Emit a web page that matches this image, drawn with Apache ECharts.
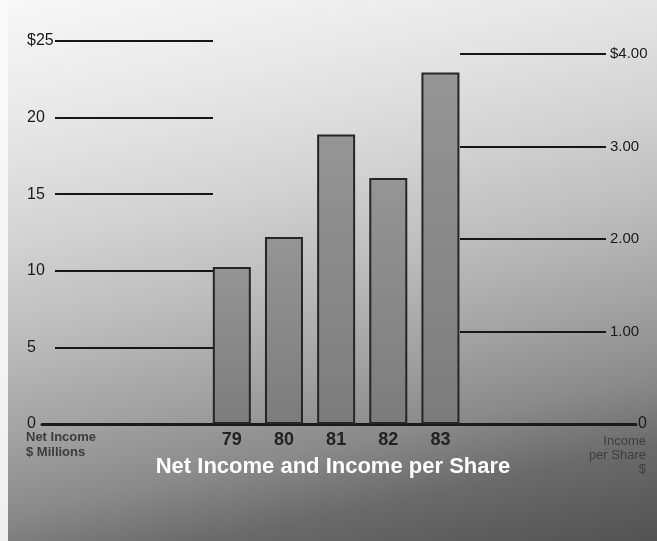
<!DOCTYPE html>
<html>
<head>
<meta charset="utf-8">
<script src="https://cdn.jsdelivr.net/npm/echarts@6/dist/echarts.min.js"></script>
<style>
  html, body { margin: 0; padding: 0; }
  #chart {
    width: 657px; height: 541px;
    background:
      linear-gradient(to right, rgba(250,250,250,0.9) 0, rgba(250,250,250,0.9) 8px, rgba(0,0,0,0) 8px),
      linear-gradient(168deg, #f8f8f8 0%, #e8e8e8 18%, #d4d4d4 35%, #bdbdbd 50%, #a3a3a3 64%, #8a8a8a 76%, #6a6a6a 86%, #525252 100%);
  }
</style>
</head>
<body>
<div id="chart"></div>
<script>
// ---- data ----
const years = ['79', '80', '81', '82', '83'];
const yearValues = [79, 80, 81, 82, 83];
const netIncome = [10.25, 12.2, 18.9, 16.05, 22.95];           // $ millions
const leftTickLabels = ['0', '5', '10', '15', '20', '$25'];
const rightTickLabels = ['0', '1.00', '2.00', '3.00', '$4.00'];
const title = 'Net Income and Income per Share';

const chart = echarts.init(document.getElementById('chart'), null, { renderer: 'canvas' });

const lineStyle = { color: '#161616', width: 2 };

const option = {
  animation: false,
  grid: [
    { left: 55, right: 657 - 213, top: 41, bottom: 117 },   // left reference lines
    { left: 42, right: 657 - 636, top: 41, bottom: 117 },   // bars + baseline
    { left: 460, right: 657 - 606, top: 54, bottom: 117 }   // right reference lines
  ],
  xAxis: [
    { gridIndex: 0, type: 'value', show: false, min: 0, max: 1 },
    {
      gridIndex: 1, type: 'value', min: 75.36, max: 86.75,
      axisLine: { show: true, lineStyle: { color: '#1a1a1a', width: 3 } },
      axisTick: { show: false },
      splitLine: { show: false },
      axisLabel: {
        customValues: yearValues,
        formatter: v => years[yearValues.indexOf(Math.round(v))] || '',
        margin: 7,
        fontFamily: 'Liberation Sans, Arial, sans-serif',
        fontWeight: 'bold', fontSize: 18, color: '#222'
      }
    },
    { gridIndex: 2, type: 'value', show: false, min: 0, max: 1 }
  ],
  yAxis: [
    {
      gridIndex: 0, type: 'value', position: 'left', min: 0, max: 25, interval: 5,
      axisLine: { show: false }, axisTick: { show: false },
      splitLine: { show: true, lineStyle: lineStyle },
      axisLabel: {
        formatter: (v) => leftTickLabels[Math.round(v / 5)],
        align: 'left', margin: 28,
        fontFamily: 'Liberation Sans, Arial, sans-serif',
        fontSize: 16, color: '#1a1a1a'
      }
    },
    {
      gridIndex: 1, type: 'value', position: 'left', min: 0, max: 25,
      show: false
    },
    {
      gridIndex: 1, type: 'value', position: 'right', min: 0, max: 4,
      axisLine: { show: false }, axisTick: { show: false }, splitLine: { show: false },
      axisLabel: {
        customValues: [0], formatter: () => rightTickLabels[0],
        margin: 2,
        fontFamily: 'Liberation Sans, Arial, sans-serif',
        fontSize: 16, color: '#1a1a1a'
      }
    },
    {
      gridIndex: 2, type: 'value', position: 'right', min: 0, max: 4, interval: 1,
      axisLine: { show: false }, axisTick: { show: false },
      splitLine: { show: true, lineStyle: lineStyle },
      axisLabel: {
        formatter: (v) => v === 0 ? '' : rightTickLabels[Math.round(v)],
        margin: 4,
        fontFamily: 'Liberation Sans, Arial, sans-serif',
        fontSize: 15, color: '#1a1a1a'
      }
    }
  ],
  series: [
    {
      type: 'bar',
      xAxisIndex: 1, yAxisIndex: 1,
      barWidth: 38,
      data: yearValues.map((y, i) => [y, netIncome[i]]),
      itemStyle: {
        color: new echarts.graphic.LinearGradient(0, 0, 0, 1, [
          { offset: 0, color: '#959595' },
          { offset: 1, color: '#7c7c7c' }
        ]),
        borderColor: '#262626',
        borderWidth: 2
      },
      z: 3
    }
  ],
  graphic: [
    {
      type: 'text', x: 26, y: 430,
      style: {
        text: 'Net Income\n$ Millions',
        font: 'bold 13px "Liberation Sans", Arial, sans-serif',
        fill: '#3c3c3c', lineHeight: 15
      }
    },
    {
      type: 'text', x: 646, y: 434,
      style: {
        text: 'Income\nper Share\n$',
        font: '13px "Liberation Sans", Arial, sans-serif',
        fill: '#3e3e3e', lineHeight: 14, align: 'right'
      }
    },
    {
      type: 'text', x: 333, y: 467,
      style: {
        text: title,
        font: 'bold 22px "Liberation Sans", Arial, sans-serif',
        fill: '#ffffff', align: 'center', verticalAlign: 'middle'
      }
    }
  ]
};

chart.setOption(option);
</script>
</body>
</html>
